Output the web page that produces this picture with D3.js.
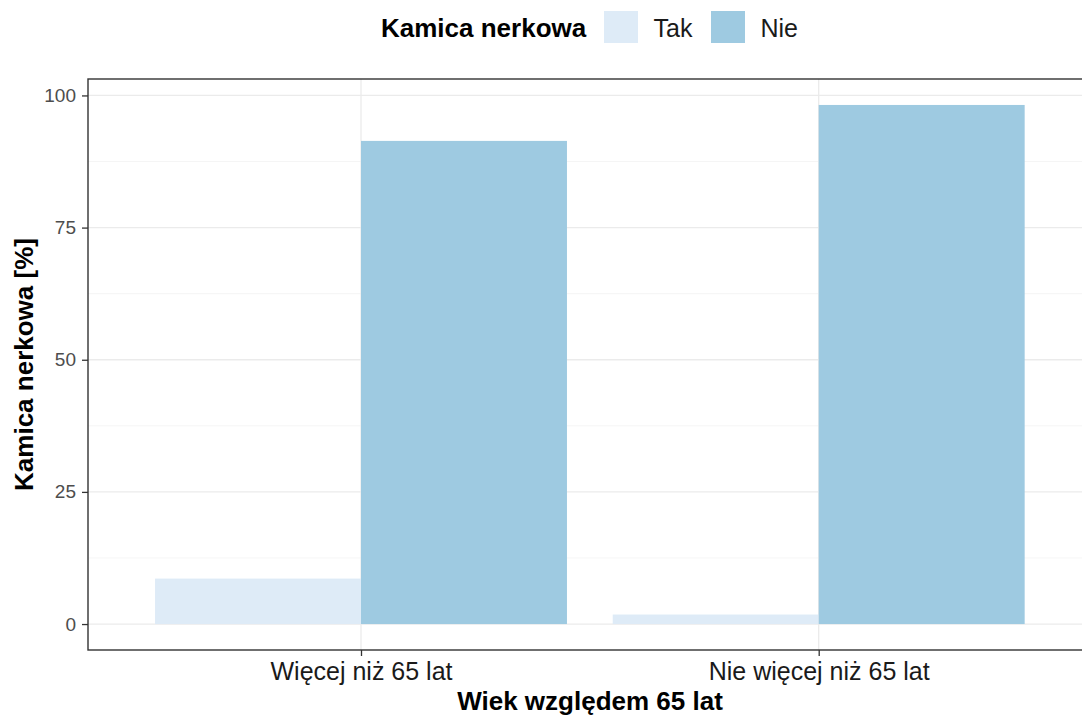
<!DOCTYPE html>
<html>
<head>
<meta charset="utf-8">
<script src="https://cdn.jsdelivr.net/npm/d3@7"></script>
<style>
  body { margin: 0; background: #fff; }
  svg { display: block; font-family: "Liberation Sans", Arial, sans-serif; }
</style>
</head>
<body>
<svg id="chart" width="1082" height="716"></svg>
<script>
// dane
const categories = ['Więcej niż 65 lat', 'Nie więcej niż 65 lat'];
const groups = ['Tak', 'Nie'];
const takValues = [8.6, 1.8];
const nieValues = [91.4, 98.2];
const yTicks = [0, 25, 50, 75, 100];
const yMinor = [12.5, 37.5, 62.5, 87.5];

const COLORS = { Tak: '#deebf7', Nie: '#9ecae1' };

const W = 1082, H = 716;
const panel = { left: 88, top: 79, right: 1095, bottom: 650 };

const svg = d3.select('#chart').attr('viewBox', `0 0 ${W} ${H}`);

// skale
const yMax = d3.max(nieValues.concat(takValues));
const pad = yMax * 0.05;
const y = d3.scaleLinear().domain([-pad, yMax + pad]).range([panel.bottom, panel.top]);
const x = d3.scaleLinear().domain([1, 2]).range([361, 818.7]);
const barW = (x(1.9) - x(1.0)) / 2;

const rows = categories.map((c, i) => ({ cat: c, i: i + 1, Tak: takValues[i], Nie: nieValues[i] }));

const g = svg.append('g');

// siatka
g.selectAll('.minor').data(yMinor).join('line')
  .attr('x1', panel.left).attr('x2', panel.right)
  .attr('y1', d => y(d)).attr('y2', d => y(d))
  .attr('stroke', '#f2f2f2').attr('stroke-width', 0.8);
g.selectAll('.major').data(yTicks).join('line')
  .attr('x1', panel.left).attr('x2', panel.right)
  .attr('y1', d => y(d)).attr('y2', d => y(d))
  .attr('stroke', '#ebebeb').attr('stroke-width', 1.3);
g.selectAll('.vmajor').data(rows).join('line')
  .attr('x1', d => x(d.i)).attr('x2', d => x(d.i))
  .attr('y1', panel.top).attr('y2', panel.bottom)
  .attr('stroke', '#ebebeb').attr('stroke-width', 1.3);

// słupki
groups.forEach((grp, k) => {
  g.selectAll('.bar-' + grp).data(rows).join('rect')
    .attr('x', d => x(d.i) - barW + k * barW)
    .attr('width', barW)
    .attr('y', d => y(d[grp]))
    .attr('height', d => y(0) - y(d[grp]))
    .attr('fill', COLORS[grp]);
});

// ramka
g.append('rect')
  .attr('x', panel.left).attr('y', panel.top)
  .attr('width', panel.right - panel.left).attr('height', panel.bottom - panel.top)
  .attr('fill', 'none').attr('stroke', '#333333').attr('stroke-width', 1.4);

// oś Y
const yAxis = svg.append('g').attr('transform', `translate(${panel.left},0)`)
  .call(d3.axisLeft(y).tickValues(yTicks).tickSize(6).tickPadding(6));
yAxis.select('.domain').remove();
yAxis.selectAll('line').attr('stroke', '#333333').attr('stroke-width', 1.3);
yAxis.selectAll('text').attr('fill', '#4d4d4d').attr('font-size', 19)
  .attr('font-family', '"Liberation Sans", Arial, sans-serif');

// oś X
const xAxis = svg.append('g').attr('transform', `translate(0,${panel.bottom})`)
  .call(d3.axisBottom(x).tickValues(rows.map(r => r.i)).tickFormat(i => categories[i - 1]).tickSize(6).tickPadding(6));
xAxis.select('.domain').remove();
xAxis.selectAll('line').attr('stroke', '#333333').attr('stroke-width', 1.3);
xAxis.selectAll('text').attr('fill', '#1a1a1a').attr('font-size', 25).attr('dy', '0.72em')
  .attr('font-family', '"Liberation Sans", Arial, sans-serif');

// tytuły osi
svg.append('text')
  .attr('x', 590).attr('y', 710)
  .attr('text-anchor', 'middle').attr('font-size', 26).attr('font-weight', 700)
  .attr('fill', '#000').text('Wiek względem 65 lat');
svg.append('text')
  .attr('transform', `translate(33,${(panel.top + panel.bottom) / 2}) rotate(-90)`)
  .attr('text-anchor', 'middle').attr('font-size', 26).attr('font-weight', 700)
  .attr('fill', '#000').text('Kamica nerkowa [%]');

// legenda
const leg = svg.append('g');
leg.append('text').attr('x', 381).attr('y', 37)
  .attr('font-size', 26).attr('font-weight', 700).attr('fill', '#000').text('Kamica nerkowa');
const keyX = [604, 711];
groups.forEach((grp, k) => {
  leg.append('rect').attr('x', keyX[k]).attr('y', 11).attr('width', 34).attr('height', 32)
    .attr('fill', COLORS[grp]);
  leg.append('text').attr('x', keyX[k] + 49.5).attr('y', 37)
    .attr('font-size', 25).attr('fill', '#1a1a1a').text(grp);
});
</script>
</body>
</html>
